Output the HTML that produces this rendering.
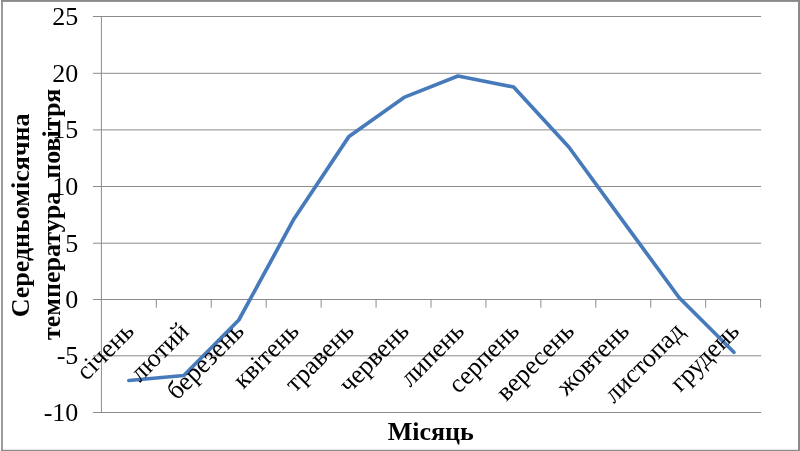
<!DOCTYPE html>
<html lang="uk"><head><meta charset="utf-8"><title>Середньомісячна температура повітря</title>
<style>
html,body{margin:0;padding:0;background:#fff;}
body{width:800px;height:451px;overflow:hidden;}
svg{display:block;}
.g line{stroke:#8b8b8b;stroke-width:1;}
.t{opacity:.999;}
.t text{font-family:"Liberation Serif",serif;font-size:26px;fill:#000;}
.b{font-family:"Liberation Serif",serif;font-weight:bold;fill:#000;}
</style></head><body>
<svg width="800" height="451" viewBox="0 0 800 451">
<rect x="0" y="0" width="800" height="451" fill="#fff"/>
<g class="g">
<line x1="93.00" y1="16.50" x2="761.10" y2="16.50"/>
<line x1="93.00" y1="73.30" x2="761.10" y2="73.30"/>
<line x1="93.00" y1="129.90" x2="761.10" y2="129.90"/>
<line x1="93.00" y1="186.50" x2="761.10" y2="186.50"/>
<line x1="93.00" y1="243.20" x2="761.10" y2="243.20"/>
<line x1="93.00" y1="299.50" x2="761.10" y2="299.50"/>
<line x1="93.00" y1="355.80" x2="761.10" y2="355.80"/>
<line x1="93.00" y1="412.50" x2="761.10" y2="412.50"/>
<line x1="101.4" y1="16.5" x2="101.4" y2="412.5"/>
<line x1="156.33" y1="299.50" x2="156.33" y2="307.70"/>
<line x1="211.27" y1="299.50" x2="211.27" y2="307.70"/>
<line x1="266.20" y1="299.50" x2="266.20" y2="307.70"/>
<line x1="321.13" y1="299.50" x2="321.13" y2="307.70"/>
<line x1="376.07" y1="299.50" x2="376.07" y2="307.70"/>
<line x1="431.00" y1="299.50" x2="431.00" y2="307.70"/>
<line x1="485.93" y1="299.50" x2="485.93" y2="307.70"/>
<line x1="540.87" y1="299.50" x2="540.87" y2="307.70"/>
<line x1="595.80" y1="299.50" x2="595.80" y2="307.70"/>
<line x1="650.73" y1="299.50" x2="650.73" y2="307.70"/>
<line x1="705.67" y1="299.50" x2="705.67" y2="307.70"/>
<line x1="760.60" y1="299.50" x2="760.60" y2="307.70"/>
</g>
<polyline points="128.90,380.50 183.80,375.50 238.80,320.00 294.10,218.70 349.00,136.40 404.00,97.40 458.00,76.00 513.60,87.00 568.80,147.00 623.90,222.30 679.00,297.50 733.90,352.20" fill="none" stroke="#467abb" stroke-width="3.7" stroke-linejoin="round" stroke-linecap="round"/>
<g class="t">
<text x="78.3" y="25.00" text-anchor="end">25</text>
<text x="78.3" y="81.80" text-anchor="end">20</text>
<text x="78.3" y="138.40" text-anchor="end">15</text>
<text x="78.3" y="195.00" text-anchor="end">10</text>
<text x="78.3" y="251.70" text-anchor="end">5</text>
<text x="78.3" y="308.00" text-anchor="end">0</text>
<text x="78.3" y="364.30" text-anchor="end">-5</text>
<text x="78.3" y="421.00" text-anchor="end">-10</text>
<text transform="translate(135.40,332.60) rotate(-45)" text-anchor="end">січень</text>
<text transform="translate(190.42,332.60) rotate(-45)" text-anchor="end">лютий</text>
<text transform="translate(245.44,332.60) rotate(-45)" text-anchor="end">березень</text>
<text transform="translate(300.46,332.60) rotate(-45)" text-anchor="end">квітень</text>
<text transform="translate(355.48,332.60) rotate(-45)" text-anchor="end">травень</text>
<text transform="translate(410.50,332.60) rotate(-45)" text-anchor="end">червень</text>
<text transform="translate(465.52,332.60) rotate(-45)" text-anchor="end">липень</text>
<text transform="translate(520.54,332.60) rotate(-45)" text-anchor="end">серпень</text>
<text transform="translate(575.56,332.60) rotate(-45)" text-anchor="end">вересень</text>
<text transform="translate(630.58,332.60) rotate(-45)" text-anchor="end">жовтень</text>
<text transform="translate(685.60,332.60) rotate(-45)" text-anchor="end">листопад</text>
<text transform="translate(740.62,332.60) rotate(-45)" text-anchor="end">грудень</text>
</g>
<g class="t">
<text class="b" style="font-size:26px;font-weight:bold" transform="translate(28.8,215.4) rotate(-90)" text-anchor="middle">Середньомісячна</text>
<text class="b" style="font-size:26px;font-weight:bold" transform="translate(59.8,214.3) rotate(-90)" text-anchor="middle">температура&#160;&#160;повітря</text>
<text class="b" style="font-size:26px;font-weight:bold" x="430.7" y="439.8" text-anchor="middle">Місяць</text>
</g>
<rect x="1" y="0" width="799" height="1.9" fill="#8a8a8a"/>
<rect x="1.15" y="0" width="1.7" height="451" fill="#8a8a8a"/>
<rect x="798" y="0" width="2" height="451" fill="#8a8a8a"/>
<rect x="1" y="449.8" width="799" height="1.2" fill="#8a8a8a"/>
</svg>
</body></html>
